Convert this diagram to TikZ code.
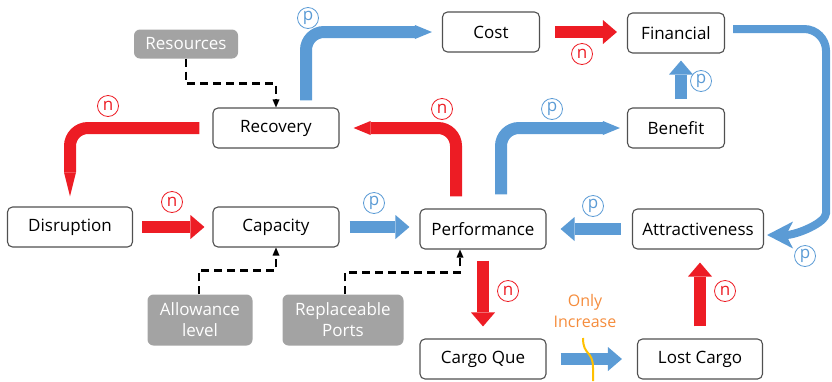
\documentclass[tikz,border=0pt]{standalone}
\usepackage{fontspec}
\setmainfont{Open Sans}
\usepackage{tikz}
\usetikzlibrary{arrows.meta}
\definecolor{cdred}{RGB}{237, 28, 36}
\definecolor{cdblue}{RGB}{91, 155, 213}
\definecolor{cdgray}{RGB}{163, 163, 163}
\definecolor{cdframe}{RGB}{80, 80, 80}
\definecolor{cdorange}{RGB}{245, 140, 60}
\definecolor{cdyellow}{RGB}{255, 192, 0}

\begin{document}
\begin{tikzpicture}[%
    x=1pt, y=-1pt,                      % pixel grid, y going down
    font=\fontsize{17}{21}\selectfont,  % Global text size
    ]
% -------------------------------------------------
% Box and arrow styles
\tikzset{
  base/.style={align=center, rounded corners=5pt, minimum height=40pt, inner sep=2pt},
  varbox/.style={base, draw=cdframe, line width=1.1pt, fill=white},
  factbox/.style={base, fill=cdgray, text=white, rounded corners=6pt},
  % -------------------------------------------------
  negarr/.style={draw=cdred, line width=12pt, -{Triangle[length=14pt, width=24pt, line width=0pt]}},
  posarr/.style={negarr, draw=cdblue},
  bentneg/.style={draw=cdred, line width=12pt, rounded corners=18pt, -{Triangle[length=17pt, width=14pt, line width=0pt]}},
  bentpos/.style={bentneg, draw=cdblue},
  dasharr/.style={draw=black, line width=2.5pt, dash pattern=on 8pt off 5pt, -{Triangle[length=8pt, width=7pt, line width=0pt]}},
  nmark/.style={circle, draw=cdred, text=cdred, line width=0.8pt, inner sep=0pt, minimum size=21pt, font=\fontsize{17}{17}\selectfont},
  pmark/.style={nmark, draw=cdblue, text=cdblue}
  }
\useasboundingbox (0,0) rectangle (832,381);
% -------------------------------------------------
% Start by placing the nodes
\node [varbox, minimum width=125pt] (b1) at (70,227) {Disruption};
\node [varbox, minimum width=97pt] (b2) at (491,32) {Cost};
\node [varbox, minimum width=97pt] (b3) at (676,33) {Financial};
\node [varbox, minimum width=126pt] (b4) at (276,128) {Recovery};
\node [varbox, minimum width=126pt] (b5) at (276,227) {Capacity};
\node [varbox, minimum width=126pt] (b6) at (483,229) {Performance};
\node [varbox, minimum width=97pt] (b7) at (676,128) {Benefit};
\node [varbox, minimum width=131pt] (b8) at (698,229) {Attractiveness};
\node [varbox, minimum width=126pt] (b9) at (483,359) {Cargo Que};
\node [varbox, minimum width=125pt] (b10) at (700,359) {Lost Cargo};

\node [factbox, minimum width=104pt, minimum height=29pt] (g1) at (186,44) {Resources};
\node [factbox, minimum width=105pt, minimum height=51pt] (g2) at (200,320) {Allowance\\level};
\node [factbox, minimum width=121pt, minimum height=51pt] (g3) at (343,320) {Replaceable\\Ports};

% -------------------------------------------------
% Straight links
\draw [negarr, shorten <=9pt, shorten >=8pt] (b1.east) -- (b5.west);
\draw [posarr, shorten <=10pt, shorten >=10pt] (b5.east) -- (b6.west |- b5.east);
\draw [posarr, shorten <=11pt, shorten >=14pt] (b8.west) -- (b6.east);
\draw [negarr, shorten <=11pt, shorten >=12pt] (b6.south) -- (b9.north);
\draw [posarr, shorten <=14pt, shorten >=15pt] (b9.east) -- (b10.west);
\draw [negarr, shorten <=12pt, shorten >=13pt] (b10.north) -- (b10.north |- b8.south);
\draw [posarr, shorten <=8pt, shorten >=7pt] ([xshift=5pt]b7.north) -- ([xshift=5pt]b3.south);
\draw [negarr, shorten <=15pt, shorten >=10pt] (b2.east) -- (b3.west |- b2.east);

% Bent links
\draw [bentneg, shorten <=12pt, shorten >=14pt] ([xshift=-27pt]b6.north) |- (b4.east);
\draw [bentpos, shorten <=14pt, shorten >=7pt] ([xshift=18pt]b6.north) |- (b7.west);
\draw [bentpos, shorten <=7pt, shorten >=10pt] ([xshift=30pt]b4.north) |- (b2.west);
\draw [bentneg, shorten <=13pt, shorten >=10pt, -{Triangle[length=24pt, width=12pt, line width=0pt]}] (b4.west) -| (b1.north);
\draw [posarr, line width=8pt, rounded corners=22pt, shorten <=8pt, shorten >=3pt,
       -{Stealth[length=26pt, width=27pt, inset=7pt, line width=0pt]}]
  ([yshift=4pt]b3.east) -- ++(101,0) -- ++(0,162)
  .. controls +(0,32) and +(32,0) .. ([yshift=-6pt]b8.east);

% Outside factors
\draw [dasharr] (g1.south) -- ++(0,25) -| (b4.north);
\draw [dasharr] ([xshift=-1pt]g2.north) -- ++(0,-24) -| (b5.south);
\draw [dasharr] ([xshift=2pt]g3.north) -- ++(0,-22) -| ([xshift=-23pt]b6.south);

% -------------------------------------------------
% Polarity marks
\node [nmark] (n1) at (172,202) {n};
\node [pmark] (p1) at (374,203) {p};
\node [nmark] (n2) at (108,106) {n};
\node [pmark] (p2) at (308,18) {p};
\node [nmark] (n3) at (442,109) {n};
\node [pmark] (p3) at (552,109) {p};
\node [nmark] (n4) at (582,54) {n};
\node [pmark] (p4) at (701,81) {p};
\node [pmark] (p5) at (593,206) {p};
\node [pmark] (p6) at (805,256) {p};
\node [nmark] (n5) at (508,291) {n};
\node [nmark] (n6) at (725,291) {n};

% Only increase cut
\node [text=cdorange, font=\fontsize{16}{21}\selectfont, align=center, inner sep=0pt] (t1) at (585,311) {Only\\Increase};
\draw [cdyellow, line width=2pt] (583,338) .. controls (583,356) and (593,350) .. (593,368) -- (593,381);
\end{tikzpicture}
\end{document}
